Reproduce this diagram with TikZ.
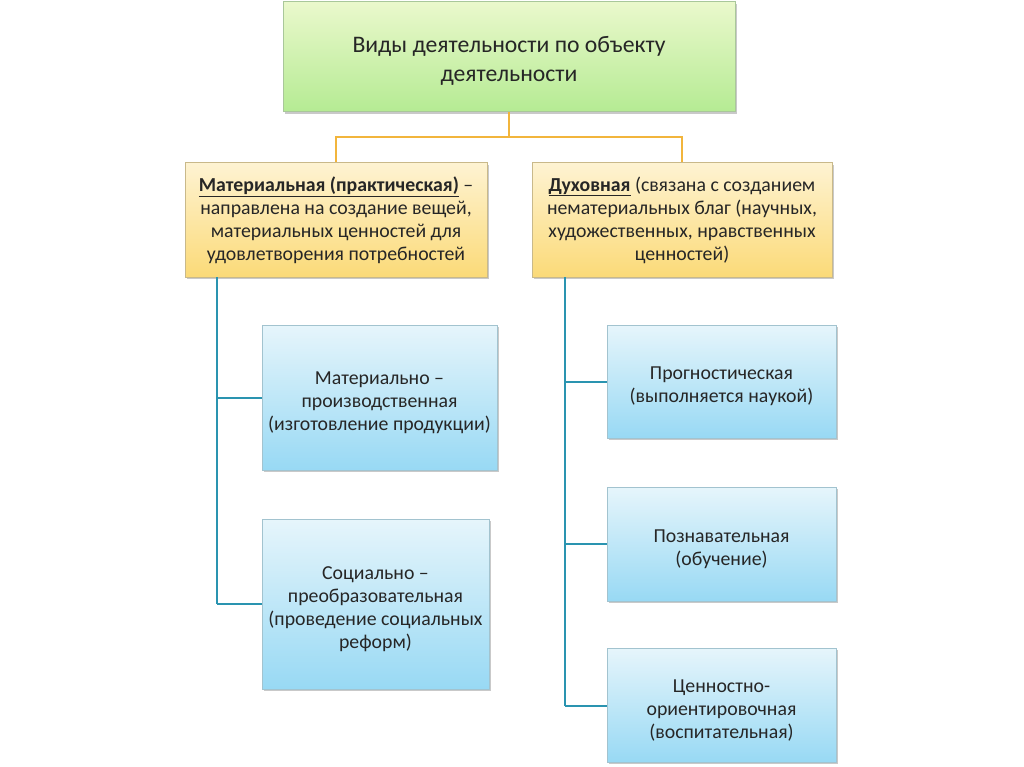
\documentclass[tikz,border=0pt]{standalone}
\usepackage{fontspec}
\setmainfont{Carlito}
\usetikzlibrary{shadows}
\definecolor{txt}{HTML}{262626}
\definecolor{orangeline}{HTML}{F2B53C}
\definecolor{blueline}{HTML}{2A94B0}
\definecolor{gtop}{HTML}{EAF8CC}
\definecolor{gbot}{HTML}{B5EB93}
\definecolor{gdraw}{HTML}{A9C79A}
\definecolor{ytop}{HTML}{FEF3D2}
\definecolor{ybot}{HTML}{FBDA78}
\definecolor{ydraw}{HTML}{C9B98A}
\definecolor{btop}{HTML}{E6F5FB}
\definecolor{bbot}{HTML}{98D9F4}
\definecolor{bdraw}{HTML}{A2C3CF}
\newcommand\lowstrut{\rule{0pt}{23pt}}
\tikzset{
  box/.style={draw, line width=1pt, align=center, text=txt, inner sep=2pt,
    drop shadow={shadow xshift=1.5pt, shadow yshift=-2pt, opacity=0.35, fill=black!60}},
  topbox/.style={box, draw=gdraw, top color=gtop, bottom color=gbot,
    font=\fontsize{23.7}{29}\selectfont},
  midbox/.style={box, draw=ydraw, top color=ytop, bottom color=ybot,
    font=\fontsize{19.8}{23}\selectfont},
  leafbox/.style={box, draw=bdraw, top color=btop, bottom color=bbot,
    font=\fontsize{19.8}{23}\selectfont},
  oline/.style={draw=orangeline, line width=2pt},
  bline/.style={draw=blueline, line width=2pt},
}
\begin{document}
\begin{tikzpicture}[x=1pt,y=-1pt]
\useasboundingbox (0,0) rectangle (1024,767);
\fill[white] (0,0) rectangle (1024,767);

% top
\node[topbox, minimum width=452pt, minimum height=110pt] (top) at (509,57)
  {\rule{0pt}{24pt}Виды деятельности по объекту\\деятельности};

% mid
\node[midbox, minimum width=302pt, minimum height=114pt] (mat) at (336,220)
  {\textbf{\underline{Материальная (практическая)}} –\\направлена на создание вещей,\\материальных ценностей для\\удовлетворения потребностей};
\node[midbox, minimum width=300pt, minimum height=114pt] (duh) at (682,220)
  {\textbf{\underline{Духовная}} (связана с созданием\\нематериальных благ (научных,\\художественных, нравственных\\ценностей)};

% leaves left
\node[leafbox, minimum width=235pt, minimum height=145pt] (l1) at (379.5,397.5)
  {\lowstrut Материально –\\производственная\\(изготовление продукции)};
\node[leafbox, minimum width=227pt, minimum height=170pt] (l2) at (375.5,604)
  {\lowstrut Социально –\\преобразовательная\\(проведение социальных\\реформ)};

% leaves right
\node[leafbox, minimum width=229pt, minimum height=113pt] (r1) at (721.5,381.5)
  {\lowstrut Прогностическая\\(выполняется наукой)};
\node[leafbox, minimum width=229pt, minimum height=114pt] (r2) at (721.5,544)
  {\lowstrut Познавательная\\(обучение)};
\node[leafbox, minimum width=229pt, minimum height=114pt] (r3) at (721.5,705)
  {\lowstrut Ценностно-\\ориентировочная\\(воспитательная)};

% orange connectors
\coordinate (oj) at (509,137);
\draw[oline] (top.south) -- (oj);
\draw[oline] (mat.north) -- (mat.north |- oj) -- (duh.north |- oj) -- (duh.north);

% blue connectors left
\coordinate (lt) at (217,277);
\coordinate (lb) at (217,604);
\draw[bline] (lt) -- (lb);
\draw[bline] (217,398) -- (l1.west |- 0,398);
\draw[bline] (lb) -- (l2.west);

% blue connectors right
\coordinate (rt) at (565,277);
\coordinate (rb) at (565,706);
\draw[bline] (rt) -- (rb);
\draw[bline] (565,381.5) -- (r1.west);
\draw[bline] (565,544) -- (r2.west);
\draw[bline] (rb) -- (r3.west |- rb);
\end{tikzpicture}
\end{document}
